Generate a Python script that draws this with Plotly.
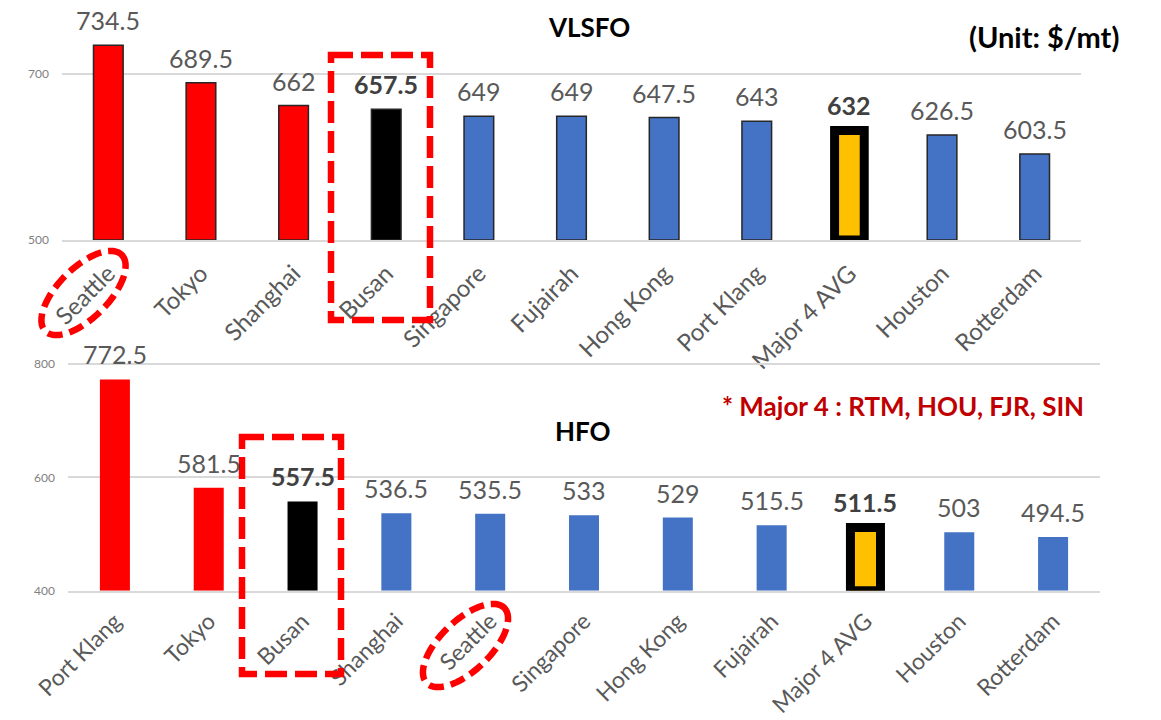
import math
import plotly.graph_objects as go

# ---------------- data ----------------
vlsfo_ports = ["Seattle", "Tokyo", "Shanghai", "Busan", "Singapore", "Fujairah",
               "Hong Kong", "Port Klang", "Major 4 AVG", "Houston", "Rotterdam"]
vlsfo_prices = [734.5, 689.5, 662, 657.5, 649, 649, 647.5, 643, 632, 626.5, 603.5]

hfo_ports = ["Port Klang", "Tokyo", "Busan", "Shanghai", "Seattle", "Singapore",
             "Hong Kong", "Fujairah", "Major 4 AVG", "Houston", "Rotterdam"]
hfo_prices = [772.5, 581.5, 557.5, 536.5, 535.5, 533, 529, 515.5, 511.5, 503, 494.5]

vlsfo_ticks = [500, 700]
hfo_ticks = [400, 600, 800]

vlsfo_title = "VLSFO"
hfo_title = "HFO"
unit_text = "(Unit: $/mt)"
note_text = "* Major 4 : RTM, HOU, FJR, SIN"

# ---------------- styles ----------------
RED, BLACK, BLUE, GOLD = "#FF0000", "#000000", "#4472C4", "#FFC000"
vlsfo_colors = [RED, RED, RED, BLACK, BLUE, BLUE, BLUE, BLUE, GOLD, BLUE, BLUE]
hfo_colors = [RED, RED, BLACK, BLUE, BLUE, BLUE, BLUE, BLUE, GOLD, BLUE, BLUE]
bold_ports = {"Busan", "Major 4 AVG"}

W, H = 1161, 720
FONT = "Lato"


def px(x):
    return x / W


def py(y):
    return 1 - y / H


# pixel geometry of the two plot areas
top_x0, top_x1, top_base, top_scale = 62, 1081, 240, 0.83      # px per unit
bot_x0, bot_x1, bot_base, bot_scale = 68, 1100, 590.7, 0.567
top_range = [vlsfo_ticks[0], vlsfo_ticks[0] + top_base / top_scale]
bot_range = [hfo_ticks[0], hfo_ticks[-1] + 10]
bot_top_px = bot_base - (bot_range[1] - bot_range[0]) * bot_scale


def line_styles(colors, default_w, default_c):
    widths = [9 if c == GOLD else default_w for c in colors]
    lcols = [BLACK if c == GOLD else default_c for c in colors]
    return widths, lcols


tw, tc = line_styles(vlsfo_colors, 1.5, "#262626")
bw, bc = line_styles(hfo_colors, 0, "rgba(0,0,0,0)")

fig = go.Figure()
fig.add_trace(go.Bar(
    x=vlsfo_ports, y=[v - top_range[0] for v in vlsfo_prices], base=top_range[0],
    marker=dict(color=vlsfo_colors, line=dict(width=tw, color=tc)),
    width=0.32, xaxis="x", yaxis="y", showlegend=False, hoverinfo="skip"))
fig.add_trace(go.Bar(
    x=hfo_ports, y=[v - bot_range[0] for v in hfo_prices], base=bot_range[0],
    marker=dict(color=hfo_colors, line=dict(width=bw, color=bc)),
    width=0.32, xaxis="x2", yaxis="y2", showlegend=False, hoverinfo="skip"))

annotations = []
for ports, prices, xr, yr in [(vlsfo_ports, vlsfo_prices, "x", "y"),
                              (hfo_ports, hfo_prices, "x2", "y2")]:
    for p, v in zip(ports, prices):
        bold = p in bold_ports
        annotations.append(dict(
            x=p, y=v, xref=xr, yref=yr, text=(f"<b>{v:g}</b>" if bold else f"{v:g}"),
            showarrow=False, yanchor="bottom", yshift=8,
            font=dict(family=FONT, size=25, color="#404040" if bold else "#595959")))

annotations += [
    dict(x=px(589), y=py(27), xref="paper", yref="paper", text=f"<b>{vlsfo_title}</b>",
         showarrow=False, xanchor="center", yanchor="middle",
         font=dict(family=FONT, size=26, color="#000000")),
    dict(x=px(1044), y=py(36), xref="paper", yref="paper", text=f"<b>{unit_text}</b>",
         showarrow=False, xanchor="center", yanchor="middle",
         font=dict(family=FONT, size=29, color="#000000")),
    dict(x=px(583), y=py(431), xref="paper", yref="paper", text=f"<b>{hfo_title}</b>",
         showarrow=False, xanchor="center", yanchor="middle",
         font=dict(family=FONT, size=26, color="#000000")),
    dict(x=px(903), y=py(406), xref="paper", yref="paper", text=f"<b>{note_text}</b>",
         showarrow=False, xanchor="center", yanchor="middle",
         font=dict(family=FONT, size=26, color="#C00000")),
]


def ellipse_path(cx, cy, a, b, ang_deg, n=120):
    t = math.radians(ang_deg)
    pts = []
    for i in range(n):
        th = 2 * math.pi * i / n
        ex, ey = a * math.cos(th), b * math.sin(th)
        x = cx + ex * math.cos(t) + ey * math.sin(t)
        y = cy - ex * math.sin(t) + ey * math.cos(t)
        pts.append((px(x), py(y)))
    return "M " + " L ".join(f"{x:.5f},{y:.5f}" for x, y in pts) + " Z"


dash_red = dict(color="#FF0000", width=6.5, dash="22px,8px")
shapes = [
    dict(type="rect", xref="paper", yref="paper", x0=px(331), x1=px(430),
         y0=py(55), y1=py(320), line=dash_red, layer="above"),
    dict(type="rect", xref="paper", yref="paper", x0=px(242), x1=px(341),
         y0=py(437), y1=py(674), line=dash_red, layer="above"),
    dict(type="path", xref="paper", yref="paper", path=ellipse_path(83.5, 293, 54, 25, 45),
         line=dict(color="#FF0000", width=6.5, dash="15px,7px"), layer="above"),
    dict(type="path", xref="paper", yref="paper", path=ellipse_path(465.5, 645.5, 54, 25, 44),
         line=dict(color="#FF0000", width=6.5, dash="15px,7px"), layer="above"),
]

xcommon = dict(type="category", showgrid=False, showline=True, linecolor="#D9D9D9",
               linewidth=2, ticks="", tickangle=-45, zeroline=False, automargin=False,
               ticklabelstandoff=8,
               tickfont=dict(family=FONT, size=24, color="#595959"), fixedrange=True)
ycommon = dict(showgrid=True, gridcolor="#D9D9D9", gridwidth=1.5, zeroline=False,
               showline=False, ticks="", dtick=200, ticklabelstandoff=12, automargin=False,
               tickfont=dict(family=FONT, size=12, color="#808080"), fixedrange=True)

fig.update_layout(
    width=W, height=H, margin=dict(l=0, r=0, t=0, b=0, pad=0, autoexpand=False),
    paper_bgcolor="white", plot_bgcolor="white",
    xaxis=dict(xcommon, domain=[px(top_x0), px(top_x1)], anchor="y"),
    yaxis=dict(ycommon, domain=[py(top_base), 1.0], range=top_range,
               tick0=vlsfo_ticks[0], anchor="x"),
    xaxis2=dict(xcommon, domain=[px(bot_x0), px(bot_x1)], anchor="y2",
                ticklabelstandoff=6,
                tickfont=dict(family=FONT, size=23, color="#595959")),
    yaxis2=dict(ycommon, domain=[py(bot_base), py(bot_top_px)], range=bot_range,
                tick0=hfo_ticks[0], anchor="x2"),
    annotations=annotations, shapes=shapes,
)

fig.write_html("out.html")
